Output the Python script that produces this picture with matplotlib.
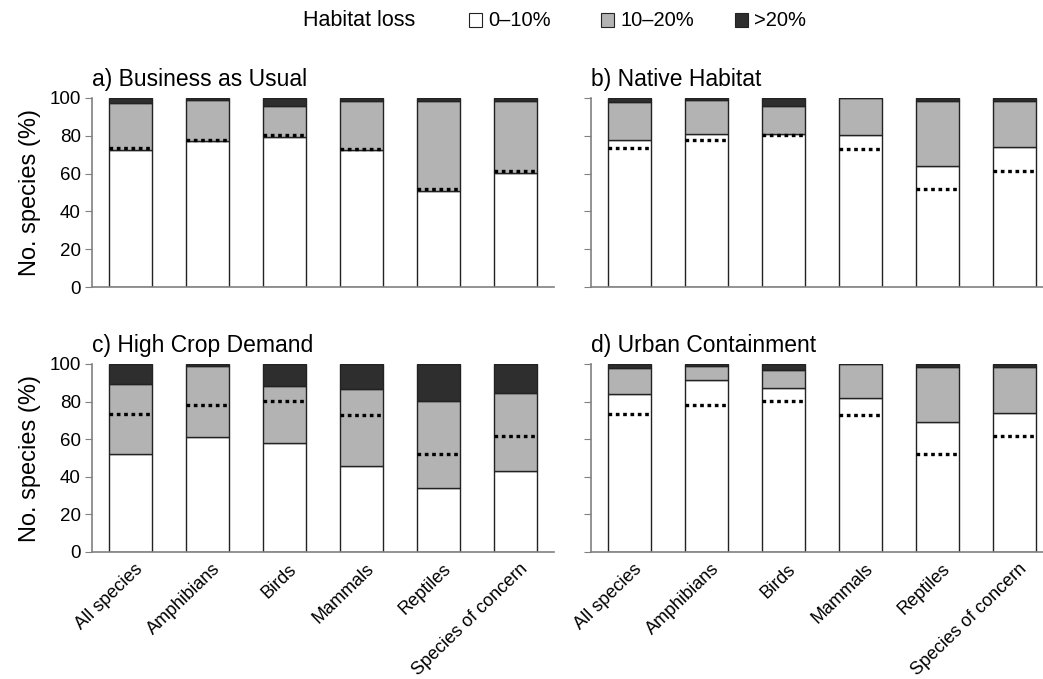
import numpy as np
import matplotlib
matplotlib.use("Agg")
import matplotlib.pyplot as plt
from matplotlib.patches import Rectangle
import matplotlib.transforms as mtransforms

plt.rcParams['font.family'] = ['Liberation Sans', 'DejaVu Sans']

# Datos
grupos = ['All species', 'Amphibians', 'Birds', 'Mammals', 'Reptiles', 'Species of concern']
linea_base = [73.5, 78.0, 80.5, 73.0, 52.0, 61.5]

escenarios = ['a) Business as Usual', 'b) Native Habitat',
              'c) High Crop Demand', 'd) Urban Containment']

# porcentaje con perdida 0-10% (blanco)
bajo = {
    'a': [72.5, 77.3, 79.6, 72.3, 51.0, 60.4],
    'b': [77.8, 81.0, 81.0, 80.5, 64.0, 74.0],
    'c': [52.2, 61.3, 57.9, 45.6, 34.3, 43.0],
    'd': [84.0, 91.7, 87.0, 82.0, 68.9, 74.2],
}
# porcentaje con perdida 10-20% (gris)
medio = {
    'a': [24.8, 21.8, 16.0, 26.3, 47.6, 38.2],
    'b': [19.9, 18.1, 14.6, 19.5, 34.6, 24.6],
    'c': [37.3, 37.6, 30.6, 41.1, 46.2, 41.7],
    'd': [14.0, 7.1, 10.0, 18.0, 29.7, 24.0],
}
# porcentaje con perdida >20% (negro)
alto = {k: [100 - b - m for b, m in zip(bajo[k], medio[k])] for k in bajo}

categorias = ['0\u201310%', '10\u201320%', '>20%']
colores = ['white', '#b3b3b3', '#2e2e2e']
W, H = 1043, 679
fig = plt.figure(figsize=(W / 100, H / 100), dpi=100)

# posiciones en pixeles: (izquierda, arriba, abajo)
posiciones = {
    'a': (92, 98, 287),
    'b': (591, 98, 287),
    'c': (92, 364, 552),
    'd': (591, 364, 552),
}
ancho_eje = 462
x = np.arange(len(grupos))

for i, clave in enumerate(['a', 'b', 'c', 'd']):
    izq, arriba, abajo = posiciones[clave]
    ax = fig.add_axes([izq / W, 1 - abajo / H, ancho_eje / W, (abajo - arriba) / H])
    b1 = np.array(bajo[clave])
    b2 = np.array(medio[clave])
    b3 = np.array(alto[clave])
    ax.bar(x, b1, width=0.57, color=colores[0], edgecolor='#222222', linewidth=1.0, zorder=2)
    ax.bar(x, b2, bottom=b1, width=0.57, color=colores[1], edgecolor='#222222', linewidth=1.0, zorder=2)
    ax.bar(x, b3, bottom=b1 + b2, width=0.57, color=colores[2], edgecolor='#222222', linewidth=1.0, zorder=2)
    ax.hlines(linea_base, x - 0.285, x + 0.285, colors='black', linewidth=2.4,
              linestyles=(0, (1.1, 1.1)), zorder=3)

    ax.set_xlim(-0.5, 5.5)
    ax.set_ylim(0, 100)
    ax.set_yticks([0, 20, 40, 60, 80, 100])
    for lado in ['top', 'right']:
        ax.spines[lado].set_visible(False)
    for lado in ['left', 'bottom']:
        ax.spines[lado].set_color('#808080')
        ax.spines[lado].set_linewidth(1.2)
    ax.tick_params(axis='y', direction='out', length=5, color='#808080', labelsize=13.5, pad=3)
    ax.tick_params(axis='x', length=0, pad=2)
    if clave in ('a', 'c'):
        ax.set_ylabel('No. species (%)', fontsize=17, labelpad=6)
    else:
        ax.set_yticklabels([])
    if clave in ('c', 'd'):
        ax.set_xticks(x)
        ax.set_xticklabels(grupos, rotation=44, ha='right', rotation_mode='anchor', fontsize=13)
        desplazar = mtransforms.ScaledTranslation(4 / 100, -6 / 100, fig.dpi_scale_trans)
        for etiqueta in ax.get_xticklabels():
            etiqueta.set_transform(etiqueta.get_transform() + desplazar)
    else:
        ax.set_xticks([])
    ax.text(0.0, 1.035, escenarios[i], transform=ax.transAxes, fontsize=16.5,
            ha='left', va='bottom')

# Leyenda (dibujada a mano para fijar posiciones)
yl = 1 - 20 / H
fig.text(303 / W, yl, 'Habitat loss', fontsize=15.5, ha='left', va='center')
inicio = [469, 601, 735]
lado_caja = 13
for xi, c, t in zip(inicio, colores, categorias):
    fig.patches.append(Rectangle((xi / W, yl - lado_caja / 2 / H), lado_caja / W, lado_caja / H,
                                 transform=fig.transFigure, facecolor=c,
                                 edgecolor='#222222', linewidth=0.8))
    fig.text((xi + 19) / W, yl, t, fontsize=14.5, ha='left', va='center')

fig.savefig('out.png', dpi=100)
